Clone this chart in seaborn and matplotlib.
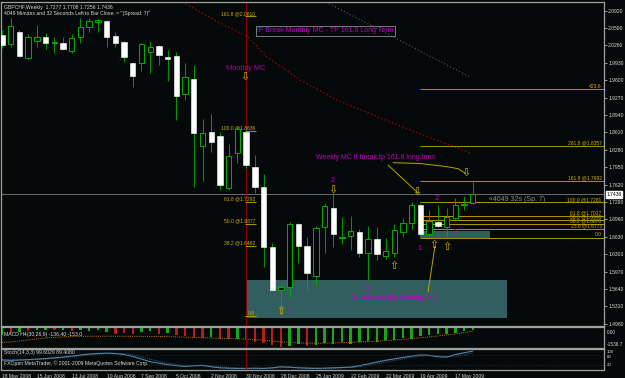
import numpy as np
import pandas as pd
import seaborn as sns
import matplotlib.pyplot as plt
from matplotlib.patches import Rectangle

BG = "#060909"
GREEN = "#00b000"
EDGE = "#a0a0a0"
TXT = "#d8d8d8"
FIB = "#b09800"
FIB_TXT = "#c8ac10"
MAGENTA = "#c000c0"
ARROW = "#d0b400"

sns.set_style("dark", rc={"axes.facecolor": BG, "figure.facecolor": BG,
                          "axes.edgecolor": EDGE, "text.color": TXT,
                          "xtick.color": TXT, "ytick.color": TXT})
plt.rcParams["font.family"] = ["Liberation Sans", "DejaVu Sans"]

# ---- weekly GBPCHF candles (18 May 2008 .. 31 May 2009) ----
opens = [2.0459, 2.0288, 2.0516, 2.0022, 2.0345, 2.0421, 2.0298, 2.0307, 2.0155, 2.0421,
         2.0611, 2.0706, 2.0725, 2.0440, 2.0326, 1.9933, 1.9922, 2.0142, 2.0250, 2.0047,
         2.0066, 1.9339, 1.9618, 1.8358, 1.8613, 1.8542, 1.7561, 1.8214, 1.8624, 1.7948,
         1.7569, 1.6442, 1.5614, 1.5671, 1.6867, 1.6455, 1.5892, 1.6810, 1.7182, 1.6613,
         1.6651, 1.6715, 1.6317, 1.6582, 1.6271, 1.6328, 1.6726, 1.6897, 1.7233, 1.6677,
         1.6916, 1.6810, 1.6992, 1.7224, 1.7277]
highs = [2.0554, 2.0781, 2.0554, 2.0478, 2.0649, 2.0497, 2.0421, 2.0421, 2.0478, 2.0781,
         2.0781, 2.0763, 2.0744, 2.0516, 2.0345, 1.9947, 2.0301, 2.0351, 2.0269, 2.0174,
         2.0142, 1.9933, 1.9890, 1.8865, 1.8960, 1.8624, 1.8391, 1.8719, 1.8675, 1.8182,
         1.7821, 1.6518, 1.5715, 1.6916, 1.6886, 1.6632, 1.6835, 1.7277, 1.7466, 1.7000,
         1.7024, 1.6778, 1.6835, 1.6821, 1.6601, 1.6873, 1.6981, 1.7296, 1.7271, 1.7138,
         1.7233, 1.7170, 1.7360, 1.7404, 1.7708]
lows = [2.0212, 2.0231, 2.0041, 2.0003, 2.0231, 2.0193, 2.0117, 2.0174, 2.0117, 2.0307,
        2.0516, 2.0516, 2.0231, 2.0231, 1.9947, 1.9478, 1.9781, 1.9744, 1.9890, 1.9592,
        1.8846, 1.9226, 1.7580, 1.7694, 1.8244, 1.7518, 1.7518, 1.8030, 1.7935, 1.7466,
        1.6062, 1.5601, 1.5118, 1.5493, 1.6127, 1.5620, 1.5696, 1.6328, 1.6442, 1.6493,
        1.6379, 1.6241, 1.5810, 1.6189, 1.6203, 1.6241, 1.6632, 1.6772, 1.6664, 1.6601,
        1.6810, 1.6620, 1.6935, 1.7138, 1.7256]
closes = [2.0269, 2.0630, 2.0060, 2.0421, 2.0421, 2.0307, 2.0317, 2.0193, 2.0402, 2.0611,
          2.0725, 2.0744, 2.0421, 2.0307, 2.0041, 1.9687, 2.0288, 2.0226, 2.0074, 1.9998,
          1.9307, 1.9668, 1.8594, 1.8594, 1.8423, 1.7613, 1.8163, 1.8681, 1.7992, 1.7569,
          1.6442, 1.5620, 1.5671, 1.6873, 1.6455, 1.5937, 1.6791, 1.7214, 1.6683, 1.6622,
          1.6740, 1.6317, 1.6582, 1.6298, 1.6360, 1.6759, 1.6897, 1.7233, 1.6677, 1.6929,
          1.6835, 1.7000, 1.7233, 1.7243, 1.7436]
bid = 1.7436

date_bars = [0, 4, 8, 12, 16, 20, 24, 28, 32, 36, 40, 44, 48, 52]
date_labels = ["18 May 2008", "15 Jun 2008", "13 Jul 2008", "10 Aug 2008", "7 Sep 2008",
               "5 Oct 2008", "2 Nov 2008", "30 Nov 2008", "28 Dec 2008", "25 Jan 2009",
               "22 Feb 2009", "22 Mar 2009", "19 Apr 2009", "17 May 2009"]
price_ticks = [2.0920, 2.0590, 2.0260, 1.9930, 1.9600, 1.9270, 1.8940, 1.8610, 1.8280,
               1.7950, 1.7620, 1.7290, 1.6960, 1.6630, 1.6300, 1.5970, 1.5640, 1.5310, 1.4980]

# ---- fibonacci levels ----
mfib_labels = ["161.8 @2.0810", "100.0 @1.8636", "61.8 @1.7292", "50.0 @1.6877", "38.2 @1.6462", "0.0"]
mfib_prices = [2.0810, 1.8636, 1.7292, 1.6877, 1.6462, 1.5118]
wfib_labels = ["423.6", "261.8 @1.8357", "161.8 @1.7692", "100.0 @1.7281", "61.8 @1.7027",
               "50.0 @1.6949", "38.2 @1.6870", "23.6 @1.6773", "0.0"]
wfib_prices = [1.9433, 1.8357, 1.7692, 1.7281, 1.7027, 1.6949, 1.6870, 1.6773, 1.6616]

# ---- drawn objects (bar index, price) ----
red_curve_bars = [20.65, 24.78, 28.22, 30.4, 34.19, 38.43, 45.66, 53.69]
red_curve_prices = [2.1085, 2.0706, 2.0421, 2.0041, 1.9605, 1.9226, 1.8732, 1.8220]
blue_line_bars = [37.17, 53.69]
blue_line_prices = [2.1085, 1.9661]
trend1_bars = [44.28, 47.72]
trend1_prices = [1.7992, 1.7461]
trend2_bars = [44.85, 47.95, 51.05, 52.31, 53.11]
trend2_prices = [1.8036, 1.8021, 1.7960, 1.7922, 1.7840]
trend3_bars = [48.87, 49.67]
trend3_prices = [1.5582, 1.6455]

notes = ["IF Break Monthly MC - TP 161.8 Long Term", "Weekly MC if break tp 161.8 long term",
         "SL area for the Monthly MC"]
note_bars = [29.3, 36.0, 40.04]
note_prices = [2.0535, 1.8125, 1.5468]
digits = ["2", "1", "3", "1", "2", "3"]
digit_bars = [37.94, 32.9, 41.9, 47.95, 49.9, 51.97]
digit_prices = [1.7689, 1.5222, 1.5637, 1.6417, 1.7347, 1.6702]
arrows = ["⇩", "⇩", "⇧", "⇧", "⇧", "⇧", "⇩", "⇩"]
arrow_bars = [27.9, 37.9, 32.0, 45.0, 49.56, 51.0, 47.6, 53.2]
arrow_prices = [1.9660, 1.7527, 1.5222, 1.6076, 1.6474, 1.6442, 1.7480, 1.7840]

# ---- MACD / stochastic ----
macd_hist = [-632, -474, -395, -316, -237, -237, -198, -237, -277, -237,
             -316, -237, -395, -553, -474, -498, -395, -316, -553, -474,
             -632, -687, -766, -814, -766, -893, -948, -909, -1027, -1146,
             -1225, -1383, -1537, -1462, -1343, -1462, -1383, -1240, -1288, -1161,
             -1288, -1161, -1082, -1161, -1027, -972, -814, -893, -711, -632,
             -553, -498, -450, -292, -237]
macd_up = [1, 0, 1, 0, 1, 1, 0, 1, 0, 1, 1, 1, 1, 0, 0, 0, 1, 1, 0, 1,
           0, 0, 0, 0, 1, 0, 0, 1, 0, 0, 0, 0, 0, 1, 1, 0, 1, 1, 1, 1,
           1, 1, 1, 1, 1, 1, 1, 1, 1, 1, 1, 1, 1, 1, 1]
macd_signal = [-1185, -1146, -1067, -988, -909, -830, -790, -751, -711, -711,
               -705, -700, -698, -700, -705, -708, -712, -716, -720, -727,
               -751, -774, -790, -814, -837, -861, -885, -901, -924, -964,
               -1011, -1074, -1138, -1185, -1217, -1240, -1248, -1240, -1225, -1201,
               -1177, -1146, -1114, -1082, -1043, -995, -940, -885, -822, -751,
               -679, -600, -514, -411, -316]
stoch_k = [50, 48, 50, 52, 55, 58, 62, 66, 72, 78, 83, 86, 88, 86, 80, 70, 55, 40, 32, 24,
           18, 14, 18, 20, 12, 6, 4, 3, 3, 4, 3, 6, 12, 10, 6, 4, 3, 4, 6, 8,
           10, 18, 28, 38, 48, 56, 64, 72, 78, 76, 68, 66, 80, 90, 99.6]
stoch_d = [52, 50, 49, 50, 52, 55, 58, 62, 67, 72, 78, 82, 86, 87, 85, 79, 68, 55, 42, 32,
           25, 19, 17, 17, 17, 13, 7, 4, 3, 3, 3, 4, 7, 9, 9, 7, 4, 4, 4, 6,
           8, 12, 19, 28, 38, 47, 56, 64, 71, 75, 74, 70, 71, 79, 89.4]

W, H = 625, 378
fig = plt.figure(figsize=(W / 100, H / 100), dpi=100)


def px_axes(x0, y0, x1, y1):
    return fig.add_axes([x0 / W, 1 - y1 / H, (x1 - x0) / W, (y1 - y0) / H])


ax = px_axes(1.5, 2, 604, 326)
ax_m = px_axes(1.5, 327, 604, 347.5)
ax_s = px_axes(1.5, 348.5, 604, 370)
XLIM = (-0.06, 69.06)

for a in (ax, ax_m, ax_s):
    a.set_facecolor(BG)
    a.grid(False)
    for s in a.spines.values():
        s.set_color(EDGE)
        s.set_linewidth(0.9)

# ---- main price panel ----
x = np.arange(len(opens))
o, hi_, lo_, c = map(np.array, (opens, highs, lows, closes))
up = c >= o
b_lo = np.minimum(o, c)
b_h = np.abs(c - o)

ax.add_patch(Rectangle((27.99, 1.5089), 57.93 - 27.99, 1.5810 - 1.5089,
                       facecolor="#325e60", edgecolor="none", zorder=1))
ax.add_patch(Rectangle((47.95, 1.6616), 55.98 - 47.95, 1.6740 - 1.6616,
                       facecolor="#325e60", edgecolor="none", zorder=1))

ax.axhline(bid, color="#7c7c7c", lw=0.6, zorder=1)
ax.axvline(28, color="#8a0000", lw=0.8, zorder=1)

ax.plot(red_curve_bars, red_curve_prices, color="#b00000", lw=0.9, ls=(0, (1, 2)), zorder=1)
ax.plot(blue_line_bars, blue_line_prices, color="#3f6070", lw=0.8, ls=(0, (1, 2)), zorder=1)

ax.hlines(mfib_prices, 27.9, 29.1, color=FIB, lw=0.7, zorder=2)
for lab, p in zip(mfib_labels, mfib_prices):
    ax.text(29.05, p + 0.001, lab, ha="right", va="bottom", fontsize=3.6, color=FIB_TXT)
ax.hlines(wfib_prices, 47.95, XLIM[1], color=FIB, lw=0.7, zorder=2)
for lab, p in zip(wfib_labels, wfib_prices):
    ax.text(68.8, p + 0.001, lab, ha="right", va="bottom", fontsize=3.6, color=FIB_TXT)

ax.vlines(x, lo_, hi_, color=GREEN, lw=0.6, zorder=3)
ax.bar(x[up], b_h[up], bottom=b_lo[up], width=0.62, facecolor=BG,
       edgecolor=GREEN, linewidth=0.7, zorder=4)
ax.bar(x[~up], b_h[~up], bottom=b_lo[~up], width=0.62, facecolor="white",
       edgecolor="white", linewidth=0.4, zorder=4)

for tb, tp in ((trend1_bars, trend1_prices), (trend2_bars, trend2_prices), (trend3_bars, trend3_prices)):
    ax.plot(tb, tp, color="#b8a400", lw=0.7, zorder=5)

ax.text(note_bars[0], note_prices[0], notes[0], fontsize=5, color=MAGENTA, va="center",
        bbox=dict(facecolor="none", edgecolor="#8c8c8c", lw=0.6, pad=0.8), zorder=6)
for t, b, p in zip(notes[1:], note_bars[1:], note_prices[1:]):
    ax.text(b, p, t, fontsize=5, color=MAGENTA, va="center", zorder=6)
ax.text(28.0, 1.9823, "Monthly MC", fontsize=5.3, color="#a800a8", ha="center", va="center")
for t, b, p in zip(digits, digit_bars, digit_prices):
    ax.text(b, p, t, fontsize=5.5, color=MAGENTA, ha="center", va="center", zorder=6)
for t, b, p in zip(arrows, arrow_bars, arrow_prices):
    ax.text(b, p, t, fontsize=8, color=ARROW, ha="center", va="center", zorder=6)
ax.text(55.87, 1.7345, "«4049 32s (Sp. 7)", fontsize=5, color="#8c8c8c", va="center")

ax.text(0.004, 0.992, "GBPCHF,Weekly  1.7277 1.7708 1.7256 1.7436", transform=ax.transAxes,
        fontsize=3.7, color=TXT, va="top")
ax.text(0.004, 0.973, "4049 Minutes and 32 Seconds Left to Bar Close. = ''(Spread: 7)''",
        transform=ax.transAxes, fontsize=3.7, color=TXT, va="top")

ax.set_xlim(*XLIM)
ax.set_ylim(1.4937, 2.1085)
ax.set_xticks([])
ax.yaxis.tick_right()
ax.set_yticks(price_ticks)
ax.set_yticklabels([f"{p:.4f}" for p in price_ticks])
ax.tick_params(axis="y", length=2, width=0.5, pad=1, labelsize=3.6, colors=TXT)
ax.text(1.004, bid, f"{bid:.4f}", transform=ax.get_yaxis_transform(), fontsize=3.6,
        color="black", ha="left", va="center",
        bbox=dict(facecolor="white", edgecolor="white", pad=0.5))

# ---- MACD panel ----
macd_df = pd.DataFrame({"bar": x, "hist": macd_hist,
                        "dir": np.where(np.array(macd_up) == 1, "up", "down")})
sns.barplot(data=macd_df, x="bar", y="hist", hue="dir", palette={"up": "#00c000", "down": "#d80000"},
            native_scale=True, dodge=False, width=0.28, errorbar=None, legend=False,
            linewidth=0, ax=ax_m)
sns.lineplot(x=x, y=macd_signal, ax=ax_m, color="#c07800", lw=0.7, ls=(0, (1, 1.2)))
ax_m.axvline(28, color="#8a0000", lw=0.8)
ax_m.set_xlim(*XLIM)
ax_m.set_ylim(-1580, 25)
ax_m.set_xticks([])
ax_m.set_yticks([])
ax_m.set_xlabel("")
ax_m.set_ylabel("")
ax_m.text(0.004, 0.62, "MACD H4(30,26,9) -136.40 -153.0", transform=ax_m.transAxes,
          fontsize=3.7, color=TXT, va="center")
ax_m.text(1.004, 0.72, "0.00", transform=ax_m.transAxes, fontsize=3.4, color=TXT, va="center")
ax_m.text(1.004, 0.14, "-1536.7", transform=ax_m.transAxes, fontsize=3.4, color=TXT, va="center")

# ---- stochastic panel ----
sns.lineplot(x=x, y=stoch_d, ax=ax_s, color="#2f5a78", lw=0.7, ls=(0, (1, 1)))
sns.lineplot(x=x, y=stoch_k, ax=ax_s, color="#4f86b0", lw=0.8)
for lvl in (80, 20):
    ax_s.axhline(lvl, color="#3a3a3a", lw=0.5, ls=(0, (1, 2)))
ax_s.axvline(28, color="#8a0000", lw=0.8)
ax_s.set_xlim(*XLIM)
ax_s.set_ylim(-6, 114)
ax_s.set_yticks([])
ax_s.set_ylabel("")
ax_s.set_xticks(date_bars)
ax_s.set_xticklabels(date_labels, ha="left")
ax_s.set_xticks(x, minor=True)
ax_s.tick_params(axis="x", which="major", length=2, width=0.5, pad=1.2, labelsize=3.6,
                 colors=TXT)
ax_s.tick_params(axis="x", which="minor", length=1.2, width=0.4, color=EDGE)
ax_s.text(0.004, 0.8, "Stoch(14,3,3) 99.6029 89.4080", transform=ax_s.transAxes,
          fontsize=3.7, color=TXT, va="center")
ax_s.text(0.004, 0.3, "FXOpen MetaTrader, © 2001-2009 MetaQuotes Software Corp.",
          transform=ax_s.transAxes, fontsize=3.7, color=TXT, va="center")
for lab, yv in (("100", 92), ("80", 66), ("20", 20)):
    ax_s.text(1.004, yv, lab, transform=ax_s.get_yaxis_transform(), fontsize=3.2,
              color=TXT, va="center")

fig.savefig("out.png", dpi=100, facecolor=BG)
